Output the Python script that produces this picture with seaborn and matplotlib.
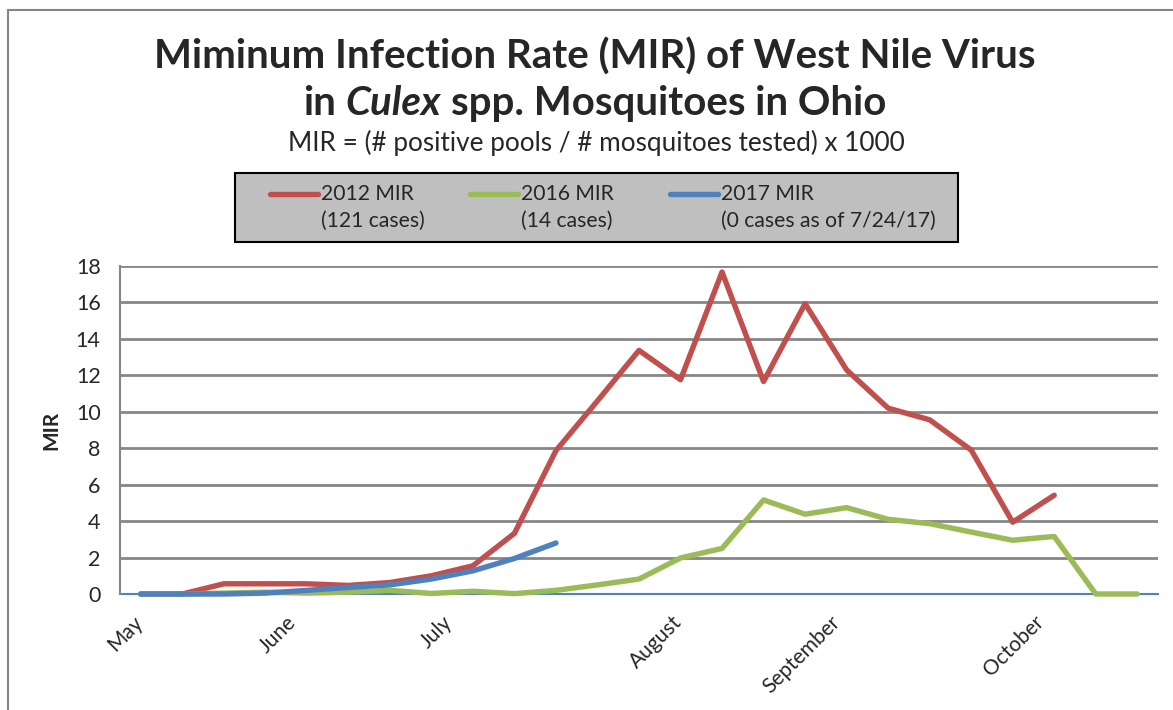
import numpy as np
import pandas as pd
import matplotlib.pyplot as plt
from matplotlib.ticker import MultipleLocator
from matplotlib.lines import Line2D
from matplotlib.patches import Rectangle
import seaborn as sns

# weekly collection periods, May through October
weeks = list(range(25))
mir_2012 = [0, 0, 0.56, 0.56, 0.56, 0.47, 0.63, 1.0, 1.55, 3.33, 7.87, 10.6, 13.37,
            11.76, 17.67, 11.66, 15.93, 12.3, 10.2, 9.56, 7.9, 3.94, 5.42, np.nan, np.nan]
mir_2016 = [0, 0, 0.05, 0.1, 0.05, 0.1, 0.2, 0.03, 0.15, 0.02, 0.2, 0.5, 0.82,
            1.98, 2.5, 5.16, 4.38, 4.74, 4.1, 3.86, 3.4, 2.95, 3.16, 0, 0]
mir_2017 = [0, 0, 0, 0.05, 0.2, 0.36, 0.5, 0.82, 1.27, 1.95, 2.8] + [np.nan] * 14

series = ["2012 MIR", "2016 MIR", "2017 MIR"]
notes = ["(121 cases)", "(14 cases)", "(0 cases as of 7/24/17)"]
colors = ["#C0504D", "#9BBB59", "#4F81BD"]
months = ["May", "June", "July", "August", "September", "October"]
month_pos = [-0.2, 3.5, 7.25, 12.8, 16.6, 21.5]

df = pd.DataFrame({
    "week": weeks * 3,
    "MIR": mir_2012 + mir_2016 + mir_2017,
    "series": np.repeat(series, len(weeks)),
}).dropna()

sns.set_style("white")
plt.rcParams["font.family"] = ["Lato", "DejaVu Sans"]

W, H = 1173, 710
fx = lambda px: px / W
fy = lambda py: 1 - py / H

fig = plt.figure(figsize=(W / 100, H / 100), dpi=100)
ax = fig.add_axes([fx(120), fy(594), fx(1158) - fx(120), fy(266) - fy(594)])

sns.lineplot(data=df, x="week", y="MIR", hue="series", hue_order=series,
             palette=dict(zip(series, colors)), errorbar=None, legend=False,
             lw=3.9, solid_capstyle="round", solid_joinstyle="round",
             clip_on=False, ax=ax)

grey = "#868686"
ax.set_xlim(-0.5, 24.5)
ax.set_ylim(0, 18)
ax.yaxis.set_major_locator(MultipleLocator(2))
ax.yaxis.set_minor_locator(MultipleLocator(1))
ax.yaxis.grid(True, color=grey, lw=2)
ax.set_axisbelow(True)
ax.tick_params(axis="y", which="major", direction="inout", length=14, width=1.3,
               color=grey, labelsize=15.5, pad=7)
ax.tick_params(axis="y", which="minor", direction="inout", length=8, width=1.3, color=grey)

ax.set_xticks(month_pos, months, rotation=45, ha="right", va="top",
              rotation_mode="anchor")
ax.set_xticks(np.arange(-0.5, 25, 1), minor=True)
ax.tick_params(axis="x", which="major", length=0, labelsize=15, pad=13)
ax.tick_params(axis="x", which="minor", direction="out", length=7, width=1.5,
               color="#4F81BD")

for s in ["top", "right"]:
    ax.spines[s].set_visible(False)
ax.spines["left"].set_color(grey)
ax.spines["left"].set_linewidth(1.5)
ax.spines["bottom"].set_color("#4F81BD")
ax.spines["bottom"].set_linewidth(1.5)
ax.spines["bottom"].set_zorder(0.6)

ax.set_xlabel("")
ax.set_ylabel("MIR", fontsize=15, fontweight="bold", labelpad=10)

# outer chart border (only top/left visible in the crop)
fig.patches.append(Rectangle((fx(8), -0.2), 1.2, fy(10) + 0.2, transform=fig.transFigure,
                             fill=False, edgecolor=grey, lw=1.5))

# titles
fig.text(0.507, fy(69), "Miminum Infection Rate (MIR) of West Nile Virus",
         ha="center", va="baseline", fontsize=29, fontweight="bold")

r = fig.canvas.get_renderer()
parts = [("in", "normal"), ("Culex", "italic"), ("spp. Mosquitoes in Ohio", "normal")]
objs = [fig.text(0, fy(115), t, fontsize=29, fontweight="bold", style=st, va="baseline")
        for t, st in parts]
probe1 = fig.text(0, 0, "aa", fontsize=29, fontweight="bold")
probe2 = fig.text(0, 0, "a a", fontsize=29, fontweight="bold")
space = (probe2.get_window_extent(r).width - probe1.get_window_extent(r).width) / W
probe1.remove()
probe2.remove()
widths = [o.get_window_extent(r).width / W for o in objs]
x = 0.507 - (sum(widths) + 2 * space) / 2
for o, w in zip(objs, widths):
    o.set_x(x)
    x += w + space

fig.text(0.508, fy(151), "MIR = (# positive pools / # mosquitoes tested) x 1000",
         ha="center", va="baseline", fontsize=18.8)

# legend box
fig.patches.append(Rectangle((fx(235), fy(242)), fx(958) - fx(235), fy(173) - fy(242),
                             transform=fig.transFigure, facecolor="#BFBFBF",
                             edgecolor="black", lw=1.5))
for i, (name, note, c) in enumerate(zip(series, notes, colors)):
    x0 = 270 + 200 * i
    fig.lines.append(Line2D([fx(x0), fx(x0 + 48)], [fy(194), fy(194)], color=c, lw=3.9,
                            solid_capstyle="round", transform=fig.transFigure))
    fig.text(fx(x0 + 51), fy(194), name, va="center", fontsize=15.2)
    fig.text(fx(x0 + 51), fy(221), note, va="center", fontsize=15.2)

fig.savefig("out.png", dpi=100)
